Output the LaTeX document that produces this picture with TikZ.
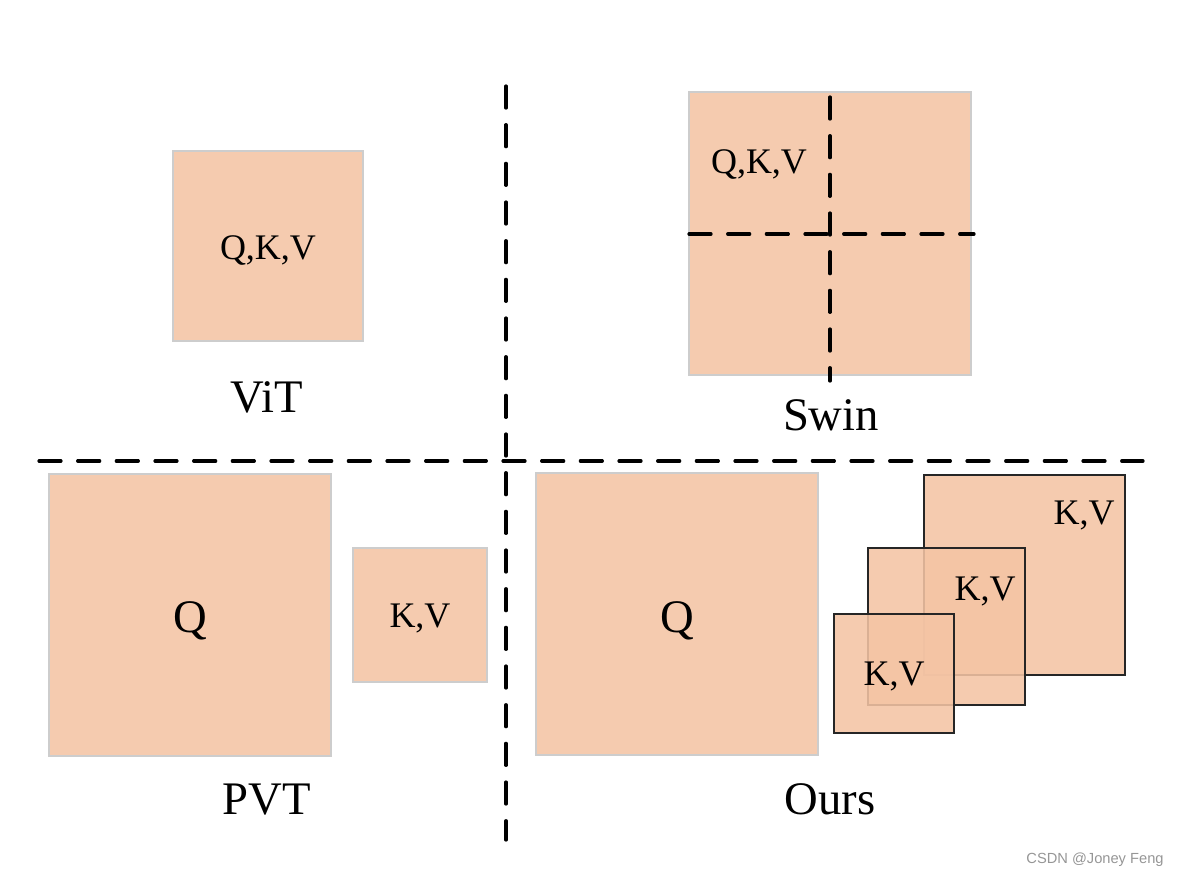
\documentclass[tikz,border=0pt]{standalone}
\usepackage{fontspec}
\setmainfont{Liberation Serif}
\newfontfamily\wmfont{Liberation Sans}
\definecolor{peach}{RGB}{245,203,175}
\definecolor{peachbase}{RGB}{244,196,164}
\definecolor{lightedge}{RGB}{205,205,205}
\definecolor{wmgray}{RGB}{150,150,150}
\tikzset{
  sq/.style={draw=lightedge, line width=0.8pt, fill=peach, inner sep=0pt, outer sep=0pt},
  osq/.style={draw=black!85, line width=0.9pt, fill=peachbase, fill opacity=0.88, inner sep=0pt, outer sep=0pt},
  divider/.style={line width=2.4pt, line cap=round, dash pattern=on 16.5pt off 12.5pt},
  small/.style={font=\fontsize{27}{30}\selectfont, anchor=base, inner sep=0pt},
  big/.style={font=\fontsize{35}{40}\selectfont, anchor=base, inner sep=0pt},
}
\begin{document}
\begin{tikzpicture}[x=0.75pt, y=-0.75pt]
\useasboundingbox (0,0) rectangle (1179,879);
% ViT
\node[sq, minimum width=190*0.75pt, minimum height=190*0.75pt] (vit) at (268,246) {};
\node[small] (vitt) at (268,259) {Q,K,V};
\node[big] (vitl) at (267,412) {ViT};
% Swin
\node[sq, minimum width=282*0.75pt, minimum height=283*0.75pt] (swin) at (830,233.5) {};
\coordinate (sv1) at (830,97);
\coordinate (sv2) at (830,381);
\coordinate (sh1) at (689,234);
\coordinate (sh2) at (974,234);
\draw[divider] (sv1) -- (sv2);
\draw[divider] (sh1) -- (sh2);
\node[small] (swint) at (759,173) {Q,K,V};
\node[big] (swinl) at (831,430) {Swin};
% PVT
\node[sq, minimum width=282*0.75pt, minimum height=282*0.75pt] (pq) at (190,615) {};
\node[big] (pqt) at (190,632) {Q};
\node[sq, minimum width=134*0.75pt, minimum height=134*0.75pt] (pkv) at (420,615) {};
\node[small] (pkvt) at (420,627) {K,V};
\node[big] (pvtl) at (267,814) {PVT};
% Ours
\node[sq, minimum width=282*0.75pt, minimum height=282*0.75pt] (oq) at (677,614) {};
\node[big] (oqt) at (677,632) {Q};
\node[osq, minimum width=201*0.75pt, minimum height=200*0.75pt] (k1) at (1024.5,575) {};
\node[osq, minimum width=157*0.75pt, minimum height=157*0.75pt] (k2) at (946.5,626.5) {};
\node[osq, minimum width=120*0.75pt, minimum height=119*0.75pt] (k3) at (894,673.5) {};
\node[small] (k1t) at (1084,524) {K,V};
\node[small] (k2t) at (985,600) {K,V};
\node[small] (k3t) at (894,685) {K,V};
\node[big] (oursl) at (830,814) {Ours};
% dividers
\coordinate (v1) at (506,86);
\coordinate (v2) at (506,840);
\coordinate (h1) at (39,461);
\coordinate (h2) at (1143,461);
\draw[divider] (v1) -- (v2);
\draw[divider] (h1) -- (h2);
% watermark
\node[font=\wmfont\fontsize{11}{12}\selectfont, text=wmgray, inner sep=0pt] (wm) at (1095,860) {CSDN @Joney Feng};
\end{tikzpicture}
\end{document}
